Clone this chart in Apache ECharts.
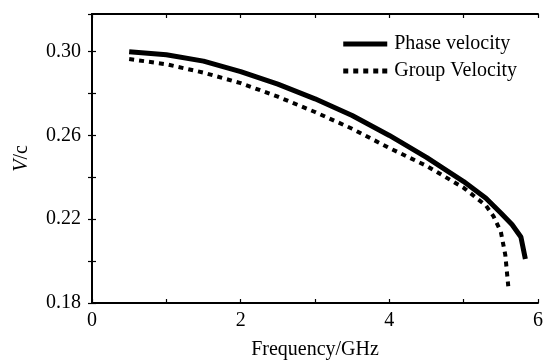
<!DOCTYPE html>
<html>
<head>
<meta charset="utf-8">
<script src="https://cdn.jsdelivr.net/npm/echarts@6/dist/echarts.min.js"></script>
<style>
  html, body { margin: 0; padding: 0; background: #fff; }
  #chart { width: 543px; height: 362px; }
</style>
</head>
<body>
<div id="chart"></div>
<script>
// frequency (GHz) / normalised velocity pairs
const phaseFreq = [0.5, 1.0, 1.5, 2.0, 2.5, 3.0, 3.5, 4.0, 4.5, 5.0, 5.3, 5.5, 5.65, 5.77, 5.83];
const phaseVel  = [0.300, 0.2985, 0.2955, 0.2905, 0.2845, 0.2775, 0.2695, 0.2600, 0.2495, 0.2380, 0.2300, 0.2230, 0.2175, 0.2115, 0.2010];

const groupFreq = [0.5, 1.0, 1.5, 2.0, 2.5, 3.0, 3.5, 4.0, 4.5, 5.0, 5.3, 5.4, 5.5, 5.56, 5.6];
const groupVel  = [0.2965, 0.2940, 0.2900, 0.2850, 0.2785, 0.2712, 0.2632, 0.2540, 0.2455, 0.2350, 0.2265, 0.2215, 0.2140, 0.2030, 0.1880];

const yLabels = ['0.18', '0.22', '0.26', '0.30'];
const xLabels = ['0', '2', '4', '6'];

const font = 'Liberation Serif, Times New Roman, serif';
const chart = echarts.init(document.getElementById('chart'));

const pairs = (xs, ys) => xs.map((x, i) => [x, ys[i]]);
const axisLine = { show: true, lineStyle: { color: '#000', width: 2 } };
const inTick = { show: true, inside: true, length: 4, lineStyle: { color: '#000', width: 1.2 } };

// legend icons: solid bar and a row of square dots
const solidIcon = 'path://M0,0H44V5H0Z';
const dotIcon = 'path://M0,0h5v5h-5z M10,0h5v5h-5z M20,0h5v5h-5z M30,0h5v5h-5z M39,0h5v5h-5z';

const option = {
    animation: false,
    backgroundColor: '#fff',
    grid: { left: 92, right: 5, top: 14, bottom: 59, outerBoundsMode: 'none' },
    legend: {
        orient: 'vertical',
        right: 21,
        top: 29,
        itemWidth: 44,
        itemHeight: 5,
        itemGap: 7,
        textStyle: { fontFamily: font, fontSize: 20, color: '#000', padding: [0, 0, 0, 2] },
        data: [
            { name: 'Phase velocity', icon: solidIcon },
            { name: 'Group Velocity', icon: dotIcon },
        ],
    },
    xAxis: [
        {
            type: 'value',
            min: 0,
            max: 6,
            interval: 1,
            position: 'bottom',
            name: 'Frequency/GHz',
            nameLocation: 'middle',
            nameGap: 37,
            nameTextStyle: { fontFamily: font, fontSize: 20, color: '#000' },
            axisLine: axisLine,
            axisTick: inTick,
            splitLine: { show: false },
            axisLabel: {
                fontFamily: font,
                fontSize: 20,
                color: '#000',
                margin: 8,
                formatter: (v) => (xLabels.includes(String(v)) ? String(v) : ''),
            },
        },
        {
            type: 'value',
            min: 0,
            max: 6,
            interval: 1,
            position: 'top',
            axisLine: axisLine,
            axisTick: inTick,
            axisLabel: { show: false },
            splitLine: { show: false },
        },
    ],
    yAxis: [
        {
            type: 'value',
            min: 0.18,
            max: 0.318,
            interval: 0.02,
            position: 'left',
            name: '{i|V}/c',
            nameLocation: 'middle',
            nameGap: 60,
            nameRotate: 90,
            nameTextStyle: {
                fontFamily: font,
                fontSize: 20,
                color: '#000',
                rich: { i: { fontFamily: font, fontSize: 20, fontStyle: 'italic', color: '#000' } },
            },
            axisLine: axisLine,
            axisTick: inTick,
            splitLine: { show: false },
            axisLabel: {
                fontFamily: font,
                fontSize: 20,
                color: '#000',
                margin: 11,
                showMaxLabel: false,
                formatter: (v) => {
                    const s = v.toFixed(2);
                    return yLabels.includes(s) ? s : '';
                },
            },
        },
        {
            type: 'value',
            min: 0.18,
            max: 0.318,
            interval: 0.02,
            position: 'right',
            axisLine: axisLine,
            axisTick: inTick,
            axisLabel: { show: false },
            splitLine: { show: false },
        },
    ],
    series: [
        {
            name: 'Phase velocity',
            type: 'line',
            symbol: 'none',
            data: pairs(phaseFreq, phaseVel),
            lineStyle: { color: '#000', width: 5, cap: 'butt' },
            itemStyle: { color: '#000' },
        },
        {
            name: 'Group Velocity',
            type: 'line',
            symbol: 'none',
            data: pairs(groupFreq, groupVel),
            lineStyle: { color: '#000', width: 4, type: [5, 5], cap: 'butt' },
            itemStyle: { color: '#000' },
        },
    ],
};

chart.setOption(option);
</script>
</body>
</html>
